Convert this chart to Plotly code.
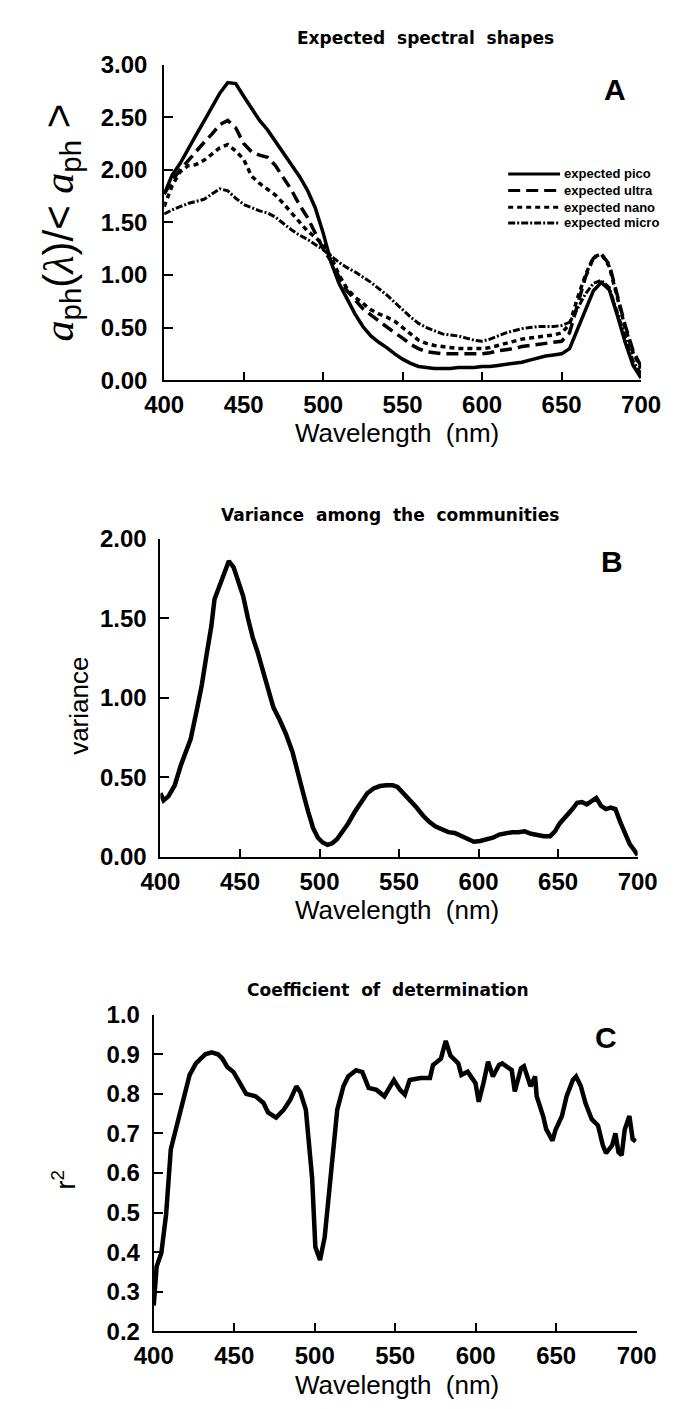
import plotly.graph_objects as go

W, H = 695, 1409

# ---------------- Panel A data ----------------
wl_A = list(range(400, 701, 5))
pico = [1.77, 1.95, 2.06, 2.20, 2.33, 2.46, 2.60, 2.73, 2.83, 2.82,
        2.70, 2.59, 2.47, 2.38, 2.27, 2.15, 2.04, 1.94, 1.81, 1.64,
        1.40, 1.12, 0.92, 0.77, 0.63, 0.51, 0.42, 0.36, 0.31, 0.25,
        0.20, 0.16, 0.13, 0.12, 0.11, 0.11, 0.11, 0.12, 0.12, 0.12,
        0.13, 0.13, 0.14, 0.15, 0.16, 0.17, 0.19, 0.21, 0.23, 0.24,
        0.25, 0.30, 0.48, 0.68, 0.85, 0.93, 0.86, 0.62, 0.36, 0.14, 0.02]
ultra = [1.77, 1.90, 2.00, 2.09, 2.18, 2.26, 2.34, 2.43, 2.47, 2.40,
         2.25, 2.17, 2.14, 2.12, 2.04, 1.93, 1.81, 1.67, 1.55, 1.40,
         1.25, 1.13, 0.98, 0.85, 0.76, 0.68, 0.62, 0.56, 0.51, 0.45,
         0.40, 0.34, 0.30, 0.27, 0.26, 0.25, 0.25, 0.25, 0.25, 0.25,
         0.25, 0.26, 0.28, 0.29, 0.30, 0.32, 0.33, 0.34, 0.35, 0.36,
         0.37, 0.45, 0.72, 0.98, 1.16, 1.20, 1.10, 0.82, 0.52, 0.28, 0.13]
nano = [1.65, 1.85, 1.98, 2.04, 2.05, 2.09, 2.15, 2.21, 2.24, 2.18,
        2.10, 1.94, 1.87, 1.82, 1.76, 1.68, 1.59, 1.50, 1.42, 1.36,
        1.29, 1.17, 1.00, 0.87, 0.79, 0.73, 0.67, 0.63, 0.60, 0.56,
        0.50, 0.43, 0.38, 0.35, 0.33, 0.32, 0.31, 0.30, 0.30, 0.30,
        0.30, 0.31, 0.33, 0.35, 0.37, 0.39, 0.40, 0.41, 0.42, 0.43,
        0.45, 0.53, 0.78, 1.00, 1.17, 1.20, 1.08, 0.80, 0.50, 0.26, 0.11]
micro = [1.58, 1.62, 1.65, 1.68, 1.70, 1.72, 1.77, 1.82, 1.80, 1.73,
         1.67, 1.64, 1.61, 1.59, 1.55, 1.49, 1.43, 1.38, 1.34, 1.29,
         1.24, 1.18, 1.12, 1.07, 1.03, 0.98, 0.93, 0.87, 0.81, 0.74,
         0.67, 0.60, 0.54, 0.50, 0.47, 0.44, 0.43, 0.42, 0.40, 0.38,
         0.37, 0.39, 0.42, 0.45, 0.47, 0.49, 0.50, 0.51, 0.51, 0.51,
         0.52, 0.55, 0.68, 0.82, 0.92, 0.95, 0.88, 0.65, 0.40, 0.18, 0.06]
legend_names = ["expected pico", "expected ultra", "expected nano", "expected micro"]

# ---------------- Panel B data ----------------
wl_B = [400, 402, 405, 409, 413, 416, 419, 423, 426, 429, 432, 434, 437, 440,
        443, 446, 449, 452, 455, 458, 461, 464, 467, 471, 475, 479, 483, 487,
        490, 493, 496, 499, 502, 505, 508, 511, 514, 518, 522, 526, 530, 534,
        538, 542, 546, 549, 553, 557, 561, 565, 569, 573, 577, 581, 585, 589,
        593, 597, 601, 605, 609, 613, 617, 621, 625, 629, 633, 637, 641, 645,
        648, 651, 655, 659, 662, 665, 668, 671, 674, 677, 680, 683, 686, 689,
        692, 695, 698, 700]
var_B = [0.40, 0.355, 0.38, 0.45, 0.58, 0.66, 0.74, 0.93, 1.08, 1.27, 1.45, 1.62, 1.70, 1.78,
         1.86, 1.82, 1.74, 1.64, 1.50, 1.38, 1.29, 1.18, 1.06, 0.94, 0.86, 0.77, 0.66, 0.52,
         0.39, 0.28, 0.18, 0.12, 0.09, 0.075, 0.085, 0.11, 0.15, 0.21, 0.28, 0.34, 0.40, 0.43,
         0.445, 0.45, 0.45, 0.44, 0.40, 0.36, 0.31, 0.26, 0.22, 0.19, 0.17, 0.155, 0.15, 0.13,
         0.11, 0.095, 0.10, 0.11, 0.12, 0.14, 0.15, 0.155, 0.155, 0.16, 0.145, 0.135, 0.13, 0.13,
         0.16, 0.21, 0.25, 0.30, 0.34, 0.345, 0.33, 0.35, 0.37, 0.32, 0.30, 0.31, 0.30, 0.22,
         0.14, 0.08, 0.04, 0.01]

# ---------------- Panel C data ----------------
wl_C = [400.0, 401.8, 404.7, 407.7, 410.6, 414.5, 418.4, 422.3, 426.2, 432.0, 436.0, 439.9,
        442.5, 445.7, 449.6, 453.5, 457.4, 463.3, 468.2, 471.0, 476.0, 480.8, 484.8, 488.6,
        491.0, 494.5, 498.4, 500.4, 503.3, 506.2, 510.1, 514.0, 517.9, 520.8, 525.7, 529.6,
        533.5, 538.4, 543.3, 549.2, 553.0, 556.0, 559.0, 565.8, 571.6, 573.5, 578.4, 581.4,
        584.3, 589.2, 591.1, 595.0, 599.9, 601.9, 604.8, 607.7, 610.7, 614.5, 616.5, 622.4,
        624.3, 628.2, 630.0, 634.1, 636.9, 637.9, 641.9, 643.8, 647.7, 649.7, 653.6, 656.5,
        660.4, 662.4, 665.3, 668.2, 672.1, 676.0, 679.0, 681.0, 684.8, 686.8, 688.7, 690.7,
        692.6, 695.5, 697.5, 699.4]
r2_C = [0.265, 0.364, 0.397, 0.496, 0.66, 0.72, 0.785, 0.848, 0.877, 0.90, 0.905, 0.90,
        0.89, 0.868, 0.855, 0.827, 0.80, 0.794, 0.777, 0.753, 0.74, 0.76, 0.785, 0.819,
        0.805, 0.76, 0.587, 0.413, 0.38, 0.438, 0.604, 0.76, 0.82, 0.844, 0.86, 0.855,
        0.815, 0.81, 0.794, 0.835, 0.81, 0.798, 0.835, 0.84, 0.84, 0.873, 0.889, 0.934,
        0.897, 0.877, 0.848, 0.856, 0.827, 0.78, 0.827, 0.881, 0.844, 0.873, 0.877, 0.86,
        0.806, 0.865, 0.87, 0.819, 0.844, 0.794, 0.744, 0.711, 0.682, 0.71, 0.744, 0.794,
        0.835, 0.844, 0.82, 0.777, 0.736, 0.72, 0.67, 0.65, 0.67, 0.70, 0.653, 0.645,
        0.71, 0.744, 0.686, 0.68]

x_ticks = [400, 450, 500, 550, 600, 650, 700]
yA_ticks = [0, 0.5, 1.0, 1.5, 2.0, 2.5, 3.0]
yB_ticks = [0, 0.5, 1.0, 1.5, 2.0]
yC_ticks = [0.2, 0.3, 0.4, 0.5, 0.6, 0.7, 0.8, 0.9, 1.0]

# styles
dashes = ["solid", "12px,6px", "5px,4px", "7px,2px,2px,2px"]
widths = [3.5, 3.5, 3.5, 3.0]

def px_x(p):
    return p / W

def px_y(p):
    return 1 - p / H

fig = go.Figure()
for name, ys, d, w in zip(legend_names, [pico, ultra, nano, micro], dashes, widths):
    fig.add_trace(go.Scatter(x=wl_A, y=ys, mode="lines", name=name,
                             line=dict(color="black", width=w, dash=d),
                             xaxis="x", yaxis="y", showlegend=False))
fig.add_trace(go.Scatter(x=wl_B, y=var_B, mode="lines", line=dict(color="black", width=4.5),
                         xaxis="x2", yaxis="y2", showlegend=False))
fig.add_trace(go.Scatter(x=wl_C, y=r2_C, mode="lines", line=dict(color="black", width=4.5),
                         xaxis="x3", yaxis="y3", showlegend=False))

tick_font_x = dict(family="Liberation Sans", size=24, color="black", weight="bold")
tick_font_y = dict(family="Liberation Sans", size=24, color="black", weight="bold")

def xax(domain, anchor):
    return dict(domain=domain, anchor=anchor, range=[400, 700], tickvals=x_ticks,
                showgrid=False, zeroline=False, showline=True, linecolor="black",
                linewidth=2, ticks="inside", ticklen=8, tickwidth=2, tickcolor="black",
                tickfont=tick_font_x, ticklabelstandoff=2)

def yax(domain, anchor, rng, tv, fmt, standoff):
    return dict(domain=domain, anchor=anchor, range=rng, tickvals=tv, tickformat=fmt,
                showgrid=False, zeroline=False, showline=True, linecolor="black",
                linewidth=2, ticks="inside", ticklen=9, tickwidth=2, tickcolor="black",
                tickfont=tick_font_y, ticklabelstandoff=standoff)

fig.update_layout(
    width=W, height=H, margin=dict(l=0, r=0, t=0, b=0),
    paper_bgcolor="white", plot_bgcolor="white", showlegend=False,
    xaxis=xax([px_x(153), px_x(659)], "y"),
    yaxis=yax([px_y(373.3), px_y(51.7)], "x", [0, 3.0], yA_ticks, ".2f", 10),
    xaxis2=xax([px_x(149), px_x(655.4)], "y2"),
    yaxis2=yax([px_y(859.3), px_y(535)], "x2", [0, 2.0], yB_ticks, ".2f", 7),
    xaxis3=xax([px_x(141.9), px_x(654.3)], "y3"),
    yaxis3=yax([px_y(1343), px_y(1020.3)], "x3", [0.2, 1.0], yC_ticks, ".1f", 7),
)

ann = []
title_font = dict(family="DejaVu Sans", size=17, color="black", weight="bold")
sp = " \u00a0"
ann.append(dict(text=sp.join(["Expected", "spectral", "shapes"]), x=px_x(430), y=px_y(24),
                font=title_font))
ann.append(dict(text=sp.join(["Variance", "among", "the", "communities"]), x=px_x(393), y=px_y(511),
                font=title_font))
ann.append(dict(text=sp.join(["Coefficient", "of", "determination"]), x=px_x(390), y=px_y(995),
                font=title_font))

xt_font = dict(family="Liberation Sans", size=26, color="black")
for yy in [427, 913, 1398]:
    ann.append(dict(text="Wavelength\u00a0\u00a0(nm)", x=px_x(400), y=px_y(yy), font=xt_font))

ann.append(dict(
    text="<span style='font-family:Liberation Serif'><i>a</i></span><sub>ph</sub>"
         "(<span style='font-family:Liberation Serif'><i>λ</i></span>)/&lt; "
         "<span style='font-family:Liberation Serif'><i>a</i></span><sub>ph</sub> &gt;",
    x=px_x(44), y=px_y(212), textangle=-90,
    font=dict(family="Liberation Sans", size=42, color="black")))
ann.append(dict(text="variance", x=px_x(63), y=px_y(705), textangle=-90,
                font=dict(family="Liberation Sans", size=26, color="black")))
ann.append(dict(text="r<sup>2</sup>", x=px_x(47), y=px_y(1188), textangle=-90,
                font=dict(family="Liberation Sans", size=27, color="black")))

letter_font = dict(family="Liberation Sans", size=30, color="black", weight="bold")
ann.append(dict(text="A", x=px_x(631), y=px_y(77), font=letter_font))
ann.append(dict(text="B", x=px_x(628), y=px_y(558), font=letter_font))
ann.append(dict(text="C", x=px_x(622), y=px_y(1044), font=letter_font))

# legend (panel A)
leg_rows = [163, 180, 197, 213]
shapes = []
for name, d, w, ry in zip(legend_names, dashes, widths, leg_rows):
    shapes.append(dict(type="line", xref="paper", yref="paper",
                       x0=px_x(518), x1=px_x(573), y0=px_y(ry), y1=px_y(ry),
                       line=dict(color="black", width=3, dash=d)))
    ann.append(dict(text=name, x=px_x(575), y=px_y(ry), xanchor="left",
                    font=dict(family="Liberation Sans", size=13, color="black", weight="bold")))

for a in ann:
    a.setdefault("xref", "paper")
    a.setdefault("yref", "paper")
    a.setdefault("showarrow", False)
    a.setdefault("xanchor", "center")
    a.setdefault("yanchor", "middle")

fig.update_layout(annotations=ann, shapes=shapes)
fig.write_html("out.html")
